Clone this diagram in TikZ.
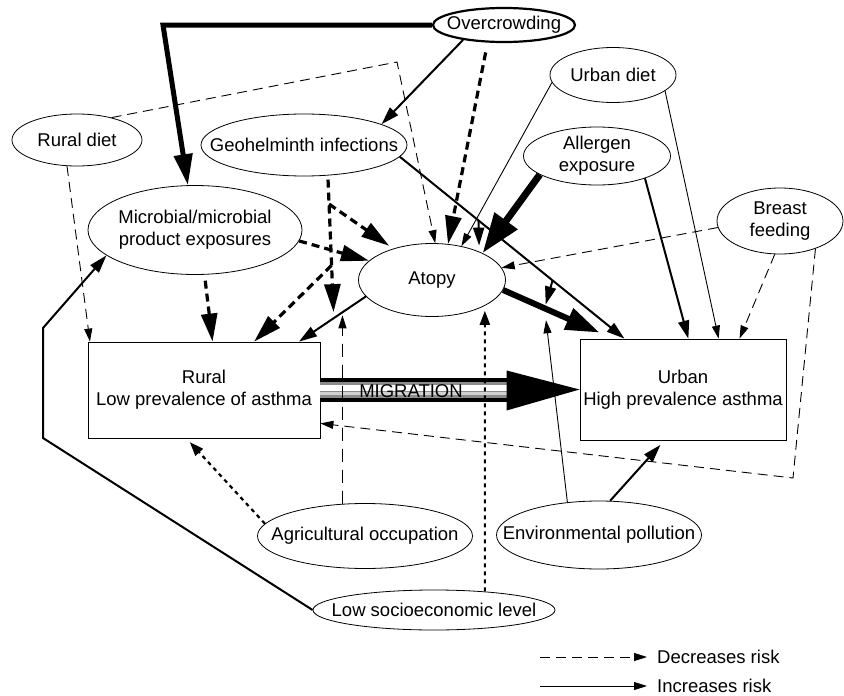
\documentclass[tikz,border=0pt]{standalone}
\usepackage{fontspec}
\setmainfont{Liberation Sans}
\usetikzlibrary{shapes.geometric,arrows.meta,calc}

\begin{document}
\begin{tikzpicture}[x=1pt,y=-1pt,line join=miter,
    font=\fontsize{18.5}{22}\selectfont,
    every label/.style={align=center},
    oval/.style={ellipse,draw,line width=0.8pt,inner sep=0pt},
    box/.style={rectangle,draw,line width=0.8pt,inner sep=0pt,align=center},
    incthin/.style={line width=0.9pt,-{Triangle[length=13pt,width=8pt]}},
    incmed/.style={line width=2pt,-{Triangle[length=18pt,width=11pt]}},
    incfat/.style={line width=6pt,-{Triangle[length=34pt,width=22pt]}},
    decthin/.style={line width=0.9pt,dash pattern=on 10pt off 6pt,-{Triangle[length=13pt,width=8pt]}},
    declong/.style={line width=0.9pt,dash pattern=on 13pt off 8pt,-{Triangle[length=13pt,width=8pt]}},
    decfat/.style={line width=3.2pt,dash pattern=on 8pt off 5pt,-{Triangle[length=28pt,width=16pt]}},
    decdots/.style={line width=2.2pt,dash pattern=on 4pt off 4pt,-{Triangle[length=14pt,width=10pt]}}]
\useasboundingbox (0,0) rectangle (844,696);

%%%%%%%%%%%%%%%% NODES %%%%%%%%%%%%%%%%%%%
\node[oval,line width=2.2pt,minimum width=142,minimum height=34,label={center:Overcrowding}] (over) at (504,25) {};
\node[oval,minimum width=126,minimum height=55,label={center:Urban diet}] (udiet) at (613,75) {};
\node[oval,minimum width=130,minimum height=52,label={center:Rural diet}] (rdiet) at (77,140) {};
\node[oval,minimum width=206,minimum height=62,label={center:Geohelminth infections}] (geo) at (304,145) {};
\node[oval,minimum width=147,minimum height=58,label={center:Allergen\\exposure}] (allergen) at (597,156) {};
\node[oval,minimum width=126,minimum height=66,label={center:Breast\\feeding}] (breast) at (780,221) {};
\node[oval,minimum width=214,minimum height=89,label={center:Microbial/microbial\\product exposures}] (microbe) at (195,230) {};
\node[oval,minimum width=147,minimum height=73,label={center:Atopy}] (atopy) at (432,280) {};
\node[box,minimum width=232,minimum height=96] (rural) at (204,390) {Rural\\Low prevalence of asthma};
\node[box,minimum width=206,minimum height=101] (urban) at (683,389.5) {Urban\\High prevalence asthma};
\node[oval,minimum width=215,minimum height=65,label={center:Agricultural occupation}] (agri) at (365,536) {};
\node[oval,minimum width=205,minimum height=68,label={center:Environmental pollution}] (envpol) at (599,535) {};
\node[oval,minimum width=242,minimum height=40,label={center:Low socioeconomic level}] (lowses) at (434,610) {};

\coordinate (overbend) at (163,25);
\coordinate (rdietbend) at (397,62);
\coordinate (breastbend) at (793,478);
\coordinate (lowbendA) at (43,438);
\coordinate (lowbendB) at (43,328);
\coordinate (urbtip) at ($(urban.north west)+(20,-6)$);
\coordinate (geofoot) at ($(atopy.194)!0.48!(rural.27)$);
\coordinate (agrifoot) at ($(atopy.194)!0.35!(rural.27)$);
\coordinate (envfoot) at ($(atopy.352)!0.43!(urbtip)$);

%%%%%%%%%%%%%%%% MIGRATION %%%%%%%%%%%%%%%%%%%
\fill ($(rural.east)+(0,-12)$) rectangle ($(urban.west)+(-73,12)$);
\fill[black!45] ($(rural.east)+(0,-8.5)$) rectangle ($(urban.west)+(-73,8.5)$);
\fill[white] ($(rural.east)+(0,-5.5)$) rectangle ($(urban.west)+(-73,1.5)$);
\fill[black!18] ($(rural.east)+(0,1.5)$) rectangle ($(urban.west)+(-73,5)$);
\fill ($(urban.west)+(-73,-19)$) -- (urban.west) -- ($(urban.west)+(-73,21)$) -- cycle;
\node (migr) at (411,391) {MIGRATION};

%%%%%%%%%%%%%%%% INCREASES %%%%%%%%%%%%%%%%%%%
\draw[incfat,line width=5pt,-{Triangle[length=31pt,width=18pt]}] (over.west) -- (overbend) -- (microbe.99);
\draw[incmed] (over.200) -- (geo.15);
\draw[incthin] (udiet.187) -- (atopy.49);
\draw[incfat,line width=7pt,-{Triangle[length=40pt,width=27pt]}] (allergen.198) -- (atopy.28);
\draw[incmed] (geo.353) -- (urban.139);
\draw[incmed,shorten >=6pt] ($(geo.353)!0.35!(urban.139)$) -- (atopy.31);
\draw[incmed,shorten >=4pt] ($(geo.353)!0.68!(urban.139)$) -- (envfoot);
\draw[incfat] (atopy.352) -- (urbtip);
\draw[incmed] (atopy.194) -- (rural.27);
\draw[incmed] (lowses.west) -- (lowbendA) -- (lowbendB) -- (microbe.196);
\draw[incmed,shorten >=6pt] (envpol.72) -- (urban.250);
\draw[incthin,shorten >=12pt] (envpol.134) -- (envfoot);
\draw[incmed] (allergen.335) -- (urban.84);
\draw[incthin] (udiet.343) -- (urban.55);

%%%%%%%%%%%%%%%% DECREASES %%%%%%%%%%%%%%%%%%%
\draw[decfat,shorten <=10pt] (over.227) -- (atopy.66);
\draw[decthin] (rdiet.33) -- (rdietbend) -- (atopy.85);
\draw[decthin] (rdiet.249) -- (rural.157);
\draw[decfat] (microbe.354) -- (atopy.163);
\draw[decfat,shorten <=6pt] (microbe.282) -- (rural.80);
\draw[decfat,shorten <=4pt,shorten >=6pt] (geo.308) -- (geofoot);
\draw[decfat,shorten >=5pt] ($(geo.308)!0.2!(geofoot)$) -- (atopy.141);
\draw[decfat] ($(geo.308)!0.63!(geofoot)$) -- (rural.44);
\draw[declong,shorten >=3pt] (agri.125) -- (agrifoot);
\draw[decdots,shorten >=5pt] (agri.173) -- (rural.250);
\draw[decdots,shorten >=5pt] (lowses.20) -- (atopy.334);
\draw[decthin] (breast.261) -- (urban.42);
\draw[decthin] (breast.186) -- (atopy.10);
\draw[decthin] (breast.322) -- (breastbend) -- (rural.344);

%%%%%%%%%%%%%%%% LEGEND %%%%%%%%%%%%%%%%%%%
\node[anchor=west,inner sep=0pt] (legdec) at (657,657) {Decreases risk};
\node[anchor=west,inner sep=0pt] (leginc) at (657,686) {Increases risk};
\coordinate (legdecstart) at (540,657);
\coordinate (legincstart) at (540,686);
\draw[decthin,shorten >=10pt] (legdecstart) -- (legdec.west);
\draw[incthin,shorten >=10pt] (legincstart) -- (leginc.west);

\end{tikzpicture}
\end{document}
